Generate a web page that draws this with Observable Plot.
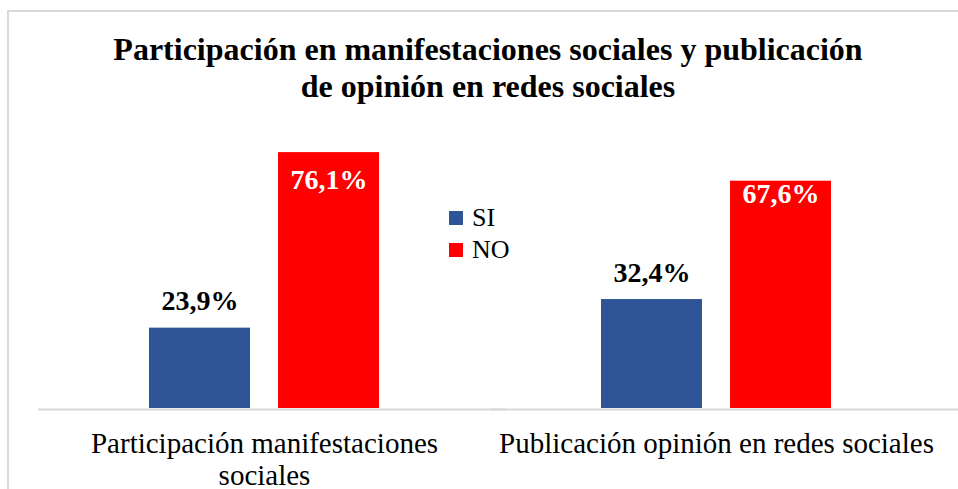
<!DOCTYPE html>
<html>
<head>
<meta charset="utf-8">
<script src="https://cdn.jsdelivr.net/npm/d3@7"></script>
<script src="https://cdn.jsdelivr.net/npm/@observablehq/plot@0.6"></script>
<style>
  html, body { margin: 0; padding: 0; background: #fff; }
  #wrap { position: relative; width: 958px; height: 489px; overflow: hidden; font-family: "Liberation Serif", "Times New Roman", serif; }
  #frame { position: absolute; left: 7px; top: 10px; width: 1100px; height: 700px; border: 2px solid #d9d9d9; box-sizing: border-box; }
  #title { position: relative; width: 976px; height: 120px; box-sizing: border-box; padding-top: 31px; text-align: center; font-weight: bold; font-size: 32px; line-height: 37px; color: #000; }
  #legend { position: absolute; left: 449px; top: 202px; font-size: 26px; line-height: 26px; color: #000; }
  #legend .row { display: flex; align-items: center; height: 32px; }
  #legend .sw { width: 14px; height: 14px; margin-right: 9px; }
  #chart { position: absolute; left: 0; top: 120px; }
  #chart svg text { font-family: "Liberation Serif", "Times New Roman", serif; }
</style>
</head>
<body>
<div id="wrap">
  <div id="frame"></div>
  <div id="title">Participación en manifestaciones sociales y publicación<br>de opinión en redes sociales</div>
  <div id="chart"></div>
  <div id="legend"></div>
</div>
<script>
const categories = ["Participación manifestaciones sociales", "Publicación opinión en redes sociales"];
const tickLabels = ["Participación manifestaciones\nsociales", "Publicación opinión en redes sociales"];
const series = ["SI", "NO"];
const siValues = [23.9, 32.4];
const noValues = [76.1, 67.6];
const colors = ["#2F5597", "#FF0000"];

const data = [];
categories.forEach((c, i) => {
  data.push({cat: c, series: "SI", value: siValues[i]});
  data.push({cat: c, series: "NO", value: noValues[i]});
});
const fmt = v => v.toFixed(1).replace(".", ",") + "%";

const chart = Plot.plot({
  width: 958,
  height: 369,
  marginTop: 19,
  marginBottom: 81,
  marginLeft: 38,
  marginRight: 16,
  style: {fontFamily: "Liberation Serif, serif", background: "transparent", color: "#000"},
  fx: {domain: categories, padding: 0, label: null},
  x: {domain: series, paddingInner: 0.217, paddingOuter: 0.86, axis: null},
  y: {domain: [0, 80], axis: null},
  color: {domain: series, range: colors},
  marks: [
    Plot.barY(data, {fx: "cat", x: "series", y: "value", fill: "series"}),
    Plot.ruleY([0], {stroke: "#d9d9d9", strokeWidth: 2, dy: 1, insetRight: -16}),
    Plot.text(data.filter(d => d.series === "SI"), {
      fx: "cat", x: "series", y: "value", text: d => fmt(d.value),
      lineAnchor: "bottom", dy: -18, fontSize: 28, fontWeight: "bold", fill: "#000"
    }),
    Plot.text(data.filter(d => d.series === "NO" && d.cat === categories[0]), {
      fx: "cat", x: "series", y: "value", text: d => fmt(d.value),
      lineAnchor: "bottom", dy: 36, fontSize: 28, fontWeight: "bold", fill: "#fff"
    }),
    Plot.text(data.filter(d => d.series === "NO" && d.cat === categories[1]), {
      fx: "cat", x: "series", y: "value", text: d => fmt(d.value),
      lineAnchor: "bottom", dy: 22, fontSize: 28, fontWeight: "bold", fill: "#fff"
    }),
    Plot.axisFx({
      anchor: "bottom", tickSize: 0, tickPadding: 21, fontSize: 29, lineHeight: 1.12,
      label: null, tickFormat: d => tickLabels[categories.indexOf(d)], fill: "#000"
    })
  ]
});
document.getElementById("chart").appendChild(chart);

const legend = document.getElementById("legend");
series.forEach((s, i) => {
  const row = document.createElement("div");
  row.className = "row";
  const sw = document.createElement("div");
  sw.className = "sw";
  sw.style.background = colors[i];
  const t = document.createElement("span");
  t.textContent = s;
  row.appendChild(sw);
  row.appendChild(t);
  legend.appendChild(row);
});
</script>
</body>
</html>
